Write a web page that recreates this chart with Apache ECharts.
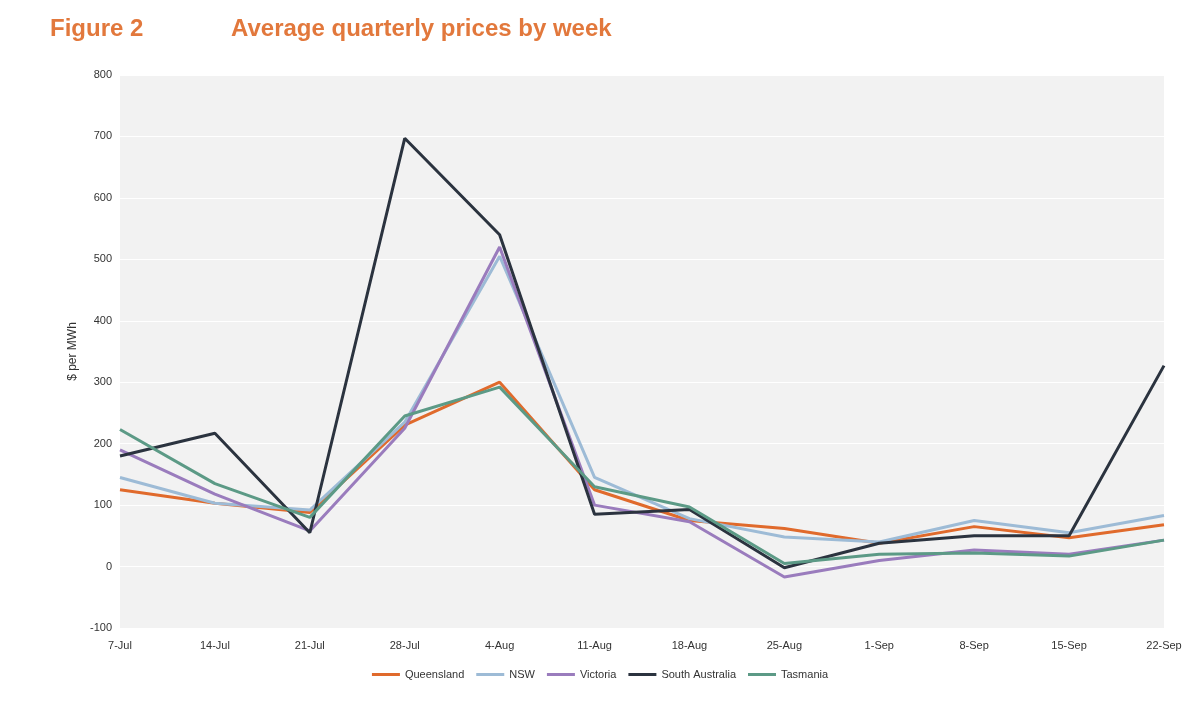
<!DOCTYPE html><html><head><meta charset="utf-8">
<script src="https://cdn.jsdelivr.net/npm/echarts@6/dist/echarts.min.js"></script>
<style>body{margin:0;background:#fff}#c{width:1200px;height:709px}</style></head><body><div id="c"></div>
<script>
const categories=['7-Jul','14-Jul','21-Jul','28-Jul','4-Aug','11-Aug','18-Aug','25-Aug','1-Sep','8-Sep','15-Sep','22-Sep'];
const queensland=[125,103,88,230,300,125,75,62,38,65,47,68];
const nsw=[145,103,92,235,505,145,78,48,40,75,55,83];
const victoria=[190,118,58,225,520,100,73,-17,10,27,20,43];
const southAustralia=[180,217,55,697,540,85,93,-2,38,50,50,327];
const tasmania=[223,135,80,245,292,130,97,5,20,22,17,43];
const names=['Queensland','NSW','Victoria','South Australia','Tasmania'];
const data=[queensland,nsw,victoria,southAustralia,tasmania];
const colors=['#e06a2c','#9dbbd6','#9a7cbd','#2b333f','#5c9a86'];
const chart=echarts.init(document.getElementById('c'));
chart.setOption({
 animation:false,
 title:[{text:'Figure 2',left:45,top:12,textStyle:{color:'#e2783c',fontSize:24,fontWeight:'bold',fontFamily:'Liberation Sans'}},
        {text:'Average quarterly prices by week',left:226,top:12,textStyle:{color:'#e2783c',fontSize:24,fontWeight:'bold',fontFamily:'Liberation Sans'}}],
 legend:{bottom:24,left:'center',itemWidth:28,itemHeight:3,icon:'rect',itemGap:12,textStyle:{fontSize:11,color:'#333',fontFamily:'Liberation Sans'}},
 grid:{left:120,right:36,top:75,bottom:81,backgroundColor:'#f2f2f2',show:true,borderWidth:0},
 xAxis:{type:'category',data:categories,boundaryGap:false,axisLine:{show:false},axisTick:{show:false},
   axisLabel:{color:'#333',fontSize:11,margin:12,fontFamily:'Liberation Sans'},splitLine:{show:false}},
 yAxis:{type:'value',min:-100,max:800,interval:100,name:'$ per MWh',nameLocation:'middle',nameGap:40,
   nameTextStyle:{color:'#333',fontSize:12,fontFamily:'Liberation Sans'},
   axisLabel:{color:'#333',fontSize:11,margin:8,fontFamily:'Liberation Sans'},splitLine:{lineStyle:{color:'#ffffff',width:1}}},
 series:names.map((n,i)=>({name:n,type:'line',data:data[i],symbol:'none',lineStyle:{width:3,color:colors[i]},itemStyle:{color:colors[i]}}))
});
</script></body></html>
